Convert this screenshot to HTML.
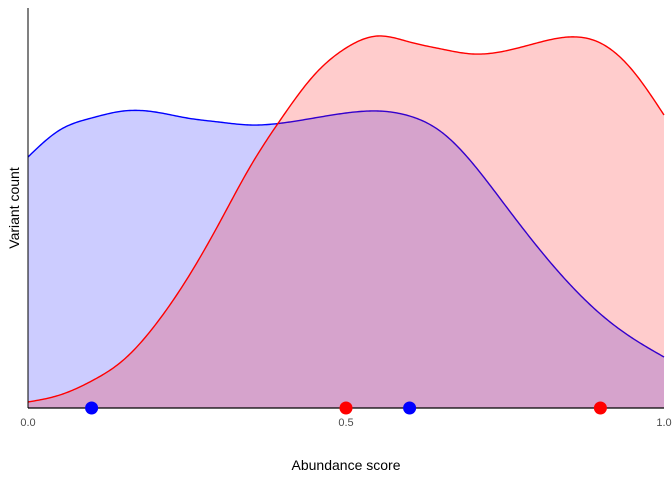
<!DOCTYPE html>
<html><head><meta charset="utf-8"><style>
body{margin:0;background:#fff;}
svg{display:block;font-family:"Liberation Sans",sans-serif;}
</style></head><body>
<svg id="chart" width="672" height="480" viewBox="0 0 672 480"></svg>
<script>
const xs = [0,0.05,0.1,0.15,0.2,0.25,0.3,0.35,0.4,0.45,0.5,0.55,0.6,0.65,0.7,0.75,0.8,0.85,0.9,0.95,1.0];
const blueDensity = [251,278,290,297,296,290,286,283,285,290,295,297,292,276,244,203,162,125,94,70,51];
const redDensity = [6,13,27,48,83,129,184,242,291,333,360,372,366,359,354,357,365,371,365,338,293];
const bluePoints = [0.1,0.6];
const redPoints = [0.5,0.9];
const xTicks = [0,0.5,1];
const xTickLabels = ["0.0","0.5","1.0"];

const NS="http://www.w3.org/2000/svg";
const svg=document.getElementById('chart');
const X0=28,X1=664,Y0=408,Y1=8;
const sx=v=>X0+(X1-X0)*v;
const sy=v=>Y0-(Y0-Y1)*v/400;
function mk(t,a,p){const e=document.createElementNS(NS,t);for(const k in a)e.setAttribute(k,a[k]);(p||svg).appendChild(e);return e;}
function spline(x,y){
  const n=x.length,h=[],al=[],l=[1],mu=[0],z=[0],c=new Array(n).fill(0),b=[],d=[];
  for(let i=0;i<n-1;i++)h[i]=x[i+1]-x[i];
  for(let i=1;i<n-1;i++)al[i]=3/h[i]*(y[i+1]-y[i])-3/h[i-1]*(y[i]-y[i-1]);
  for(let i=1;i<n-1;i++){l[i]=2*(x[i+1]-x[i-1])-h[i-1]*mu[i-1];mu[i]=h[i]/l[i];z[i]=(al[i]-h[i-1]*z[i-1])/l[i];}
  for(let j=n-2;j>=0;j--){c[j]=(z[j]||0)-mu[j]*c[j+1];b[j]=(y[j+1]-y[j])/h[j]-h[j]*(c[j+1]+2*c[j])/3;d[j]=(c[j+1]-c[j])/(3*h[j]);}
  return t=>{let i=Math.min(n-2,Math.max(0,Math.floor((t-x[0])/h[0])));while(i<n-2&&t>x[i+1])i++;const dx=t-x[i];return y[i]+b[i]*dx+c[i]*dx*dx+d[i]*dx*dx*dx;};
}
function curve(vals){
  const f=spline(xs,vals);let d='';
  for(let k=0;k<=400;k++){const t=k/400;d+=(k?' L':'M')+sx(t).toFixed(2)+','+sy(f(t)).toFixed(2);}
  return d;
}
[[blueDensity,'#0000ff','blue'],[redDensity,'#ff0000','red']].forEach(([vals,col,nm])=>{
  const c=curve(vals);
  const a=mk('path',{d:c+` L${sx(1)},${sy(0)} L${sx(0)},${sy(0)} Z`,fill:col,'fill-opacity':0.2,stroke:'none'});
  
  
  const l=mk('path',{d:c,fill:'none',stroke:col,'stroke-width':1.4});
  
  
});
const ya=mk('line',{x1:X0,y1:Y1,x2:X0,y2:Y0,stroke:'#000','stroke-width':1});


const bl=mk('line',{x1:X0,y1:Y0,x2:X1,y2:Y0,stroke:'#000','stroke-width':1.2});


[[bluePoints,'#0000ff','blue'],[redPoints,'#ff0000','red']].forEach(([pts,col,nm])=>{
  pts.forEach(v=>{
    const c=mk('circle',{cx:sx(v),cy:Y0,r:6.5,fill:col});
    
    
  });
});
xTicks.forEach((v,i)=>{
  const t=mk('text',{x:sx(v),y:426,'text-anchor':'middle','font-size':11,fill:'#4d4d4d'});
  t.textContent=xTickLabels[i];
  
  
});
const xt=mk('text',{x:346,y:470,'text-anchor':'middle','font-size':14,fill:'#000'});
xt.textContent='Abundance score';


const yt=mk('text',{x:19,y:208,'text-anchor':'middle','font-size':14,fill:'#000',transform:'rotate(-90 19 208)'});
yt.textContent='Variant count';


</script>
</body></html>
